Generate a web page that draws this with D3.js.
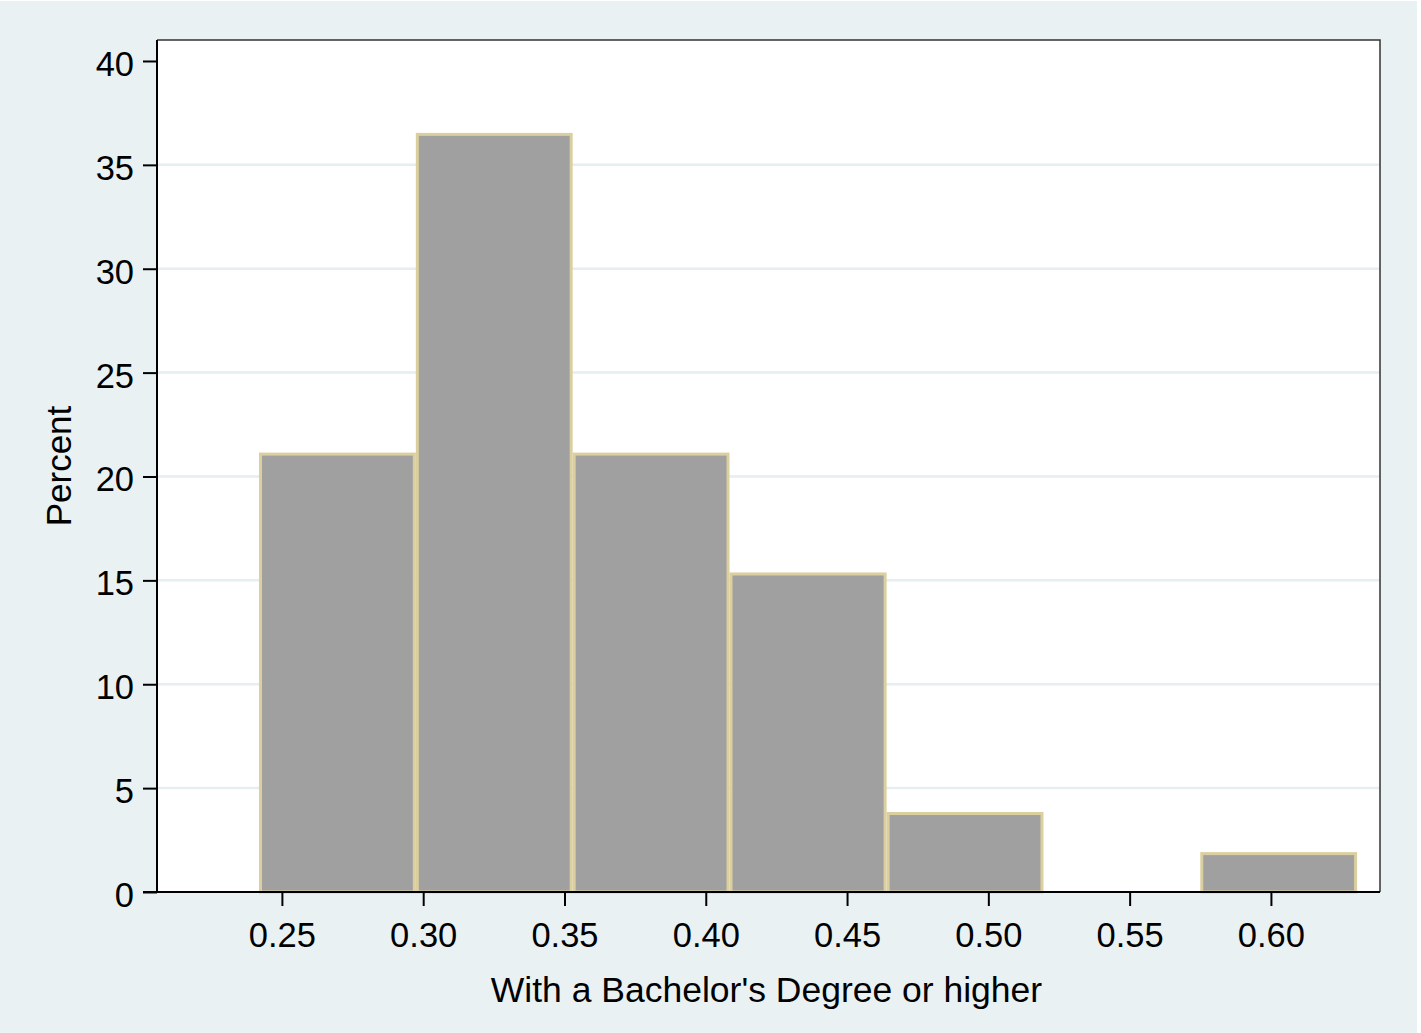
<!DOCTYPE html>
<html>
<head>
<meta charset="utf-8">
<script src="https://cdn.jsdelivr.net/npm/d3@7"></script>
<style>
  html, body { margin: 0; padding: 0; background: #ffffff; }
  svg { display: block; }
  text { font-family: "Liberation Sans", Arial, Helvetica, sans-serif; fill: #000; }
</style>
</head>
<body>
<svg id="chart" width="1421" height="1033"></svg>
<script>
// ---- data ----
const binEdges = [0.2419, 0.2974, 0.3529, 0.4084, 0.4640, 0.5195, 0.5750, 0.6305];
const percents = [21.15, 36.54, 21.15, 15.38, 3.85, 0, 1.92];
const xTicks = [0.25, 0.30, 0.35, 0.40, 0.45, 0.50, 0.55, 0.60];
const yTicks = [0, 5, 10, 15, 20, 25, 30, 35, 40];
const xTitle = "With a Bachelor's Degree or higher";
const yTitle = "Percent";

const bins = percents.map((p, i) => ({ x0: binEdges[i], x1: binEdges[i + 1], pct: p }));

// ---- layout ----
const W = 1421, H = 1033;
const plot = { left: 157, right: 1380, top: 40, bottom: 892 };
const svg = d3.select("#chart");

svg.append("rect").attr("width", W).attr("height", H).attr("fill", "#ffffff");
svg.append("rect").attr("x", 0).attr("y", 1).attr("width", 1417).attr("height", H - 1).attr("fill", "#eaf1f3");

const x = d3.scaleLinear().domain([0.2058, 0.6386]).range([plot.left, plot.right]);
const y = d3.scaleLinear().domain([0, 41.01]).range([plot.bottom, plot.top]);

// plot area
svg.append("rect")
  .attr("x", plot.left).attr("y", plot.top)
  .attr("width", plot.right - plot.left).attr("height", plot.bottom - plot.top)
  .attr("fill", "#ffffff");

// gridlines
svg.append("g").selectAll("line")
  .data(yTicks.filter(t => t > 0 && t < 40))
  .join("line")
  .attr("x1", plot.left).attr("x2", plot.right)
  .attr("y1", d => y(d)).attr("y2", d => y(d))
  .attr("stroke", "#e6eef1").attr("stroke-width", 2.5);

// bars
svg.append("g").selectAll("rect")
  .data(bins.filter(b => b.pct > 0))
  .join("rect")
  .attr("x", d => x(d.x0) + 1.5)
  .attr("width", d => x(d.x1) - x(d.x0) - 3)
  .attr("y", d => y(d.pct) + 1.5)
  .attr("height", d => y(0) - y(d.pct) - 1.5)
  .attr("fill", "#a0a0a0")
  .attr("stroke", "#dccf9f")
  .attr("stroke-width", 3);

// frame top/right
svg.append("path")
  .attr("d", `M${plot.left},${plot.top}H${plot.right}V${plot.bottom}`)
  .attr("fill", "none").attr("stroke", "#333").attr("stroke-width", 1.5);

// y axis
const yAxis = d3.axisLeft(y).tickValues(yTicks).tickSize(14).tickPadding(9)
  .tickFormat(d3.format("d"));
const gy = svg.append("g").attr("transform", `translate(${plot.left},0)`).call(yAxis);
gy.select(".domain").attr("stroke", "#000").attr("stroke-width", 2)
  .attr("d", `M0,${plot.top}V${plot.bottom}`);
gy.selectAll(".tick line").attr("stroke", "#000").attr("stroke-width", 2);
gy.selectAll(".tick text").attr("font-size", 34.5).attr("dy", "0.42em")
  .attr("font-family", "'Liberation Sans', Arial, sans-serif");

// x axis
const xAxis = d3.axisBottom(x).tickValues(xTicks).tickSize(14).tickPadding(17)
  .tickFormat(d3.format(".2f"));
const gx = svg.append("g").attr("transform", `translate(0,${plot.bottom})`).call(xAxis);
gx.select(".domain").attr("stroke", "#000").attr("stroke-width", 2)
  .attr("d", `M${plot.left - 14},0H${plot.right}`);
gx.selectAll(".tick line").attr("stroke", "#000").attr("stroke-width", 2);
gx.selectAll(".tick text").attr("font-size", 34.5).attr("dy", "0.71em")
  .attr("font-family", "'Liberation Sans', Arial, sans-serif");

// titles
svg.append("text")
  .attr("x", 766.5).attr("y", 1002)
  .attr("text-anchor", "middle").attr("font-size", 35.5)
  .text(xTitle);

svg.append("text")
  .attr("transform", `translate(71,${(plot.top + plot.bottom) / 2}) rotate(-90)`)
  .attr("text-anchor", "middle").attr("font-size", 35)
  .text(yTitle);
</script>
</body>
</html>
